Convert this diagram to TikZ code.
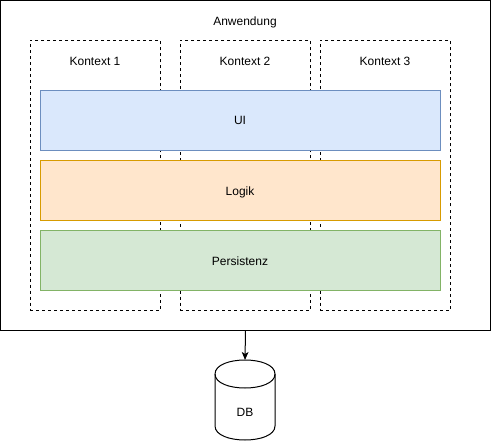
\documentclass[tikz,border=0pt]{standalone}
\usepackage{fontspec}
\setmainfont{Liberation Sans}
\usetikzlibrary{arrows.meta}
\definecolor{uifill}{HTML}{DAE8FC}\definecolor{uidraw}{HTML}{6C8EBF}
\definecolor{lgfill}{HTML}{FFE6CC}\definecolor{lgdraw}{HTML}{D79B00}
\definecolor{psfill}{HTML}{D5E8D4}\definecolor{psdraw}{HTML}{82B366}
\begin{document}
\begin{tikzpicture}[x=0.75pt,y=-0.75pt,line width=0.75pt,
  every node/.style={font=\fontsize{9pt}{11pt}\selectfont, inner sep=0pt, outer sep=0pt},
  appbox/.style={draw=black, fill=white, minimum width=367.5pt, minimum height=247.5pt},
  ctxbox/.style={draw=black, dash pattern=on 2.25pt off 2.25pt, minimum width=97.5pt, minimum height=202.5pt},
  layerbox/.style={minimum width=300pt, minimum height=45pt},
  lbl/.style={anchor=base}]
\useasboundingbox (0,0) rectangle (491,441);
\node[appbox] (app) at (245.5,165.5) {};
\node[lbl] (appl) at (245,25.5) {Anwendung};
\node[ctxbox] (k1) at (95,175.5) {};
\node[ctxbox] (k2) at (245,175.5) {};
\node[ctxbox] (k3) at (385,175.5) {};
\node[lbl] (k1l) at (95,66) {Kontext 1};
\node[lbl] (k2l) at (245,66) {Kontext 2};
\node[lbl] (k3l) at (385,66) {Kontext 3};
\node[layerbox, draw=uidraw, fill=uifill] (ui) at (240,120.5) {};
\node[layerbox, draw=lgdraw, fill=lgfill] (logik) at (240,190.5) {};
\node[layerbox, draw=psdraw, fill=psfill] (pers) at (240,260.5) {};
\node[lbl] (uil) at (240,125) {UI};
\node[lbl] (logikl) at (240,195.5) {Logik};
\node[lbl] (persl) at (240,265.5) {Persistenz};
% database cylinder
\draw[fill=white] (215,374) -- (215,426) .. controls (215,444.67) and (275,444.67) .. (275,426) -- (275,374)
  .. controls (275,355.33) and (215,355.33) .. (215,374) -- cycle;
\draw (215,374) .. controls (215,392.67) and (275,392.67) .. (275,374);
\coordinate (dbtop) at (245,360);
\node[lbl] (db) at (245,416.5) {DB};
\draw[-{Stealth[length=6pt,width=5pt,inset=1.5pt]}] (app.south) -- (dbtop);
\end{tikzpicture}
\end{document}
